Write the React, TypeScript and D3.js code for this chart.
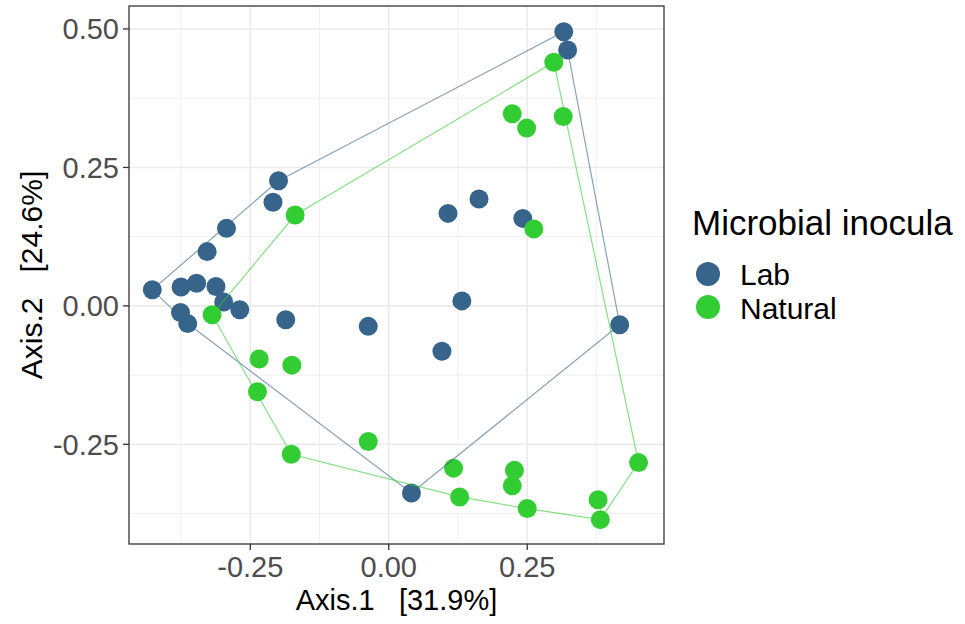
import React from 'react';
import * as d3 from 'd3';

// PCoA coordinates
const labX = [0.316, 0.323, -0.199, -0.209, -0.293, -0.328, -0.427, -0.375, -0.347, -0.312, -0.298, -0.269, -0.376, -0.363, -0.186, -0.037, 0.107, 0.163, 0.242, 0.132, 0.096, 0.417, 0.041];
const labY = [0.495, 0.462, 0.226, 0.187, 0.140, 0.098, 0.029, 0.034, 0.041, 0.035, 0.007, -0.007, -0.012, -0.032, -0.025, -0.037, 0.167, 0.193, 0.158, 0.009, -0.082, -0.034, -0.338];
const natX = [0.298, 0.223, 0.249, 0.315, 0.262, -0.169, -0.319, -0.234, -0.175, -0.237, -0.176, -0.037, 0.117, 0.128, 0.227, 0.223, 0.250, 0.378, 0.382, 0.451];
const natY = [0.440, 0.347, 0.321, 0.342, 0.139, 0.164, -0.016, -0.096, -0.107, -0.155, -0.268, -0.245, -0.293, -0.345, -0.297, -0.325, -0.366, -0.350, -0.386, -0.283];

const groups = ['Lab', 'Natural'];
const colors = ['#36648B', '#32CD32'];
const xTicks = [-0.25, 0, 0.25];
const yTicks = [-0.25, 0, 0.25, 0.5];
const xMinor = [-0.375, -0.125, 0.125, 0.375];
const yMinor = [-0.375, -0.125, 0.125, 0.375];

const W = 965, H = 624;
const panel = { left: 129, right: 664, top: 6, bottom: 544 };

// plain hyphen like R's labels
const fmt = (v: number) => d3.format('.2f')(v).replace('\u2212', '-');

export default function App() {
  const x = d3.scaleLinear().domain([-0.469, 0.497]).range([panel.left, panel.right]);
  const y = d3.scaleLinear().domain([-0.43, 0.5415]).range([panel.bottom, panel.top]);

  const series = [
    labX.map((v, i) => [x(v), y(labY[i])] as [number, number]),
    natX.map((v, i) => [x(v), y(natY[i])] as [number, number]),
  ];
  const hulls = series.map(pts => d3.polygonHull(pts) || []);
  const font = 'Arial, "Liberation Sans", sans-serif';

  return (
    <svg width={W} height={H} style={{ position: 'absolute', left: 0, top: 0, background: '#fff' }} fontFamily={font}>
      <rect x={0} y={0} width={W} height={H} fill="#fff" />
      {/* grid */}
      {xMinor.map(t => (
        <line key={'xm' + t} x1={x(t)} x2={x(t)} y1={panel.top} y2={panel.bottom} stroke="#ebebeb" strokeWidth={0.8} />
      ))}
      {yMinor.map(t => (
        <line key={'ym' + t} y1={y(t)} y2={y(t)} x1={panel.left} x2={panel.right} stroke="#ebebeb" strokeWidth={0.8} />
      ))}
      {xTicks.map(t => (
        <line key={'xg' + t} x1={x(t)} x2={x(t)} y1={panel.top} y2={panel.bottom} stroke="#ebebeb" strokeWidth={1.6} />
      ))}
      {yTicks.map(t => (
        <line key={'yg' + t} y1={y(t)} y2={y(t)} x1={panel.left} x2={panel.right} stroke="#ebebeb" strokeWidth={1.6} />
      ))}

      {/* points */}
      {series.map((pts, g) =>
        pts.map((p, i) => <circle key={g + '-' + i} cx={p[0]} cy={p[1]} r={9.5} fill={colors[g]} />)
      )}

      {/* hulls */}
      {hulls.map((h, g) => (
        <path key={'h' + g} d={'M' + h.map(p => p.join(',')).join('L') + 'Z'} fill="none" stroke={colors[g]} strokeOpacity={0.6} strokeWidth={1.2} />
      ))}

      <rect x={panel.left} y={panel.top} width={panel.right - panel.left} height={panel.bottom - panel.top} fill="none" stroke="#333" strokeWidth={1.3} />

      {/* x axis */}
      {xTicks.map(t => (
        <g key={'xt' + t}>
          <line x1={x(t)} x2={x(t)} y1={panel.bottom} y2={panel.bottom + 6} stroke="#333" strokeWidth={1.3} />
          <text x={x(t)} y={577} textAnchor="middle" fontSize={29} fill="#4d4d4d">{fmt(t)}</text>
        </g>
      ))}
      {/* y axis */}
      {yTicks.map(t => (
        <g key={'yt' + t}>
          <line x1={panel.left - 6} x2={panel.left} y1={y(t)} y2={y(t)} stroke="#333" strokeWidth={1.3} />
          <text x={119} y={y(t)} dy="0.36em" textAnchor="end" fontSize={29} fill="#4d4d4d">{fmt(t)}</text>
        </g>
      ))}

      <text x={(panel.left + panel.right) / 2} y={610} textAnchor="middle" fontSize={29} fill="#000" style={{ whiteSpace: 'pre' }}>
        {'Axis.1   [31.9%]'}
      </text>
      <text transform={`translate(42,${(panel.top + panel.bottom) / 2}) rotate(-90)`} textAnchor="middle" fontSize={30} fill="#000" style={{ whiteSpace: 'pre' }}>
        {'Axis.2   [24.6%]'}
      </text>

      {/* legend */}
      <text x={692} y={235} fontSize={35} fill="#000">Microbial inocula</text>
      {groups.map((g, i) => (
        <g key={g}>
          <circle cx={708} cy={274 + i * 33} r={12} fill={colors[i]} />
          <text x={740} y={285 + i * 33.5} fontSize={30} fill="#000">{g}</text>
        </g>
      ))}
    </svg>
  );
}
